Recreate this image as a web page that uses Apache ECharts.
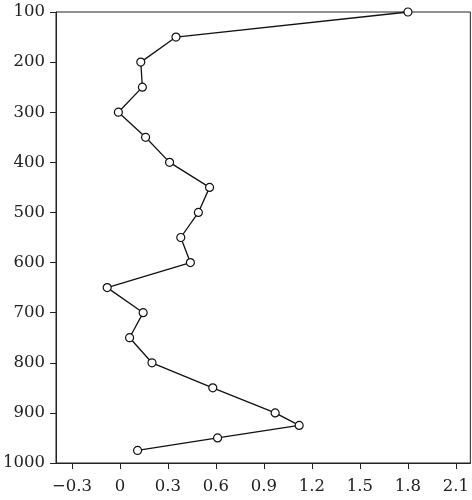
<!DOCTYPE html>
<html>
<head>
<meta charset="utf-8">
<script src="https://cdn.jsdelivr.net/npm/echarts@6/dist/echarts.min.js"></script>
<style>html,body{margin:0;padding:0;background:#fff}#c{width:472px;height:500px}</style>
</head>
<body>
<div id="c"></div>
<script>
const depths = [100,150,200,250,300,350,400,450,500,550,600,650,700,750,800,850,900,925,950,975];
const values = [1.80,0.35,0.13,0.14,-0.01,0.16,0.31,0.56,0.49,0.38,0.44,-0.08,0.145,0.06,0.20,0.58,0.97,1.12,0.61,0.11];
const xTicks = [-0.3,0,0.3,0.6,0.9,1.2,1.5,1.8,2.1];
const xTickLabels = ['\u22120.3','0','0.3','0.6','0.9','1.2','1.5','1.8','2.1'];
const yTicks = [100,200,300,400,500,600,700,800,900,1000];

const chart = echarts.init(document.getElementById('c'));
const font = 'DejaVu Serif, serif';
chart.setOption({
  animation:false,
  grid:{left:54,right:1,top:12,bottom:37,show:true,borderColor:'#222',borderWidth:1},
  xAxis:{
    type:'value',min:-0.40,max:2.19,
    axisLine:{show:true,onZero:false,lineStyle:{color:'#222',width:1}},
    axisTick:{show:true,length:6,lineStyle:{color:'#222'},customValues:xTicks},
    axisLabel:{color:'#222',fontFamily:font,fontSize:16.5,margin:15,customValues:xTicks,
      formatter:function(v){const i=xTicks.findIndex(t=>Math.abs(t-v)<1e-6);return i>=0?xTickLabels[i]:'';}},
    splitLine:{show:false}
  },
  yAxis:{
    type:'value',inverse:true,min:100,max:1000,interval:100,
    axisLine:{show:true,onZero:false,lineStyle:{color:'#222',width:1}},
    axisTick:{show:true,length:6,lineStyle:{color:'#222'}},
    axisLabel:{color:'#222',fontFamily:font,fontSize:16.5,margin:11,
      formatter:function(v){return String(v);}},
    splitLine:{show:false}
  },
  series:[{
    type:'line',
    data:values.map((v,i)=>[v,depths[i]]),
    symbol:'circle',symbolSize:8,
    lineStyle:{color:'#111',width:1.3},
    itemStyle:{color:'#fff',borderColor:'#111',borderWidth:1.2},
    clip:false
  }]
});
</script>
</body>
</html>
